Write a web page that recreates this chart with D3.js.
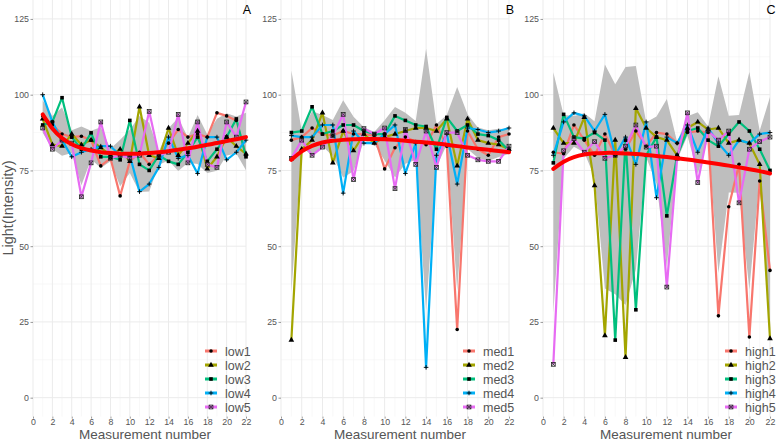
<!DOCTYPE html>
<html>
<head>
<meta charset="utf-8">
<script src="https://cdn.jsdelivr.net/npm/d3@7"></script>
<style>
  body { margin: 0; background: #fff; }
  text { font-family: "Liberation Sans", Arial, sans-serif; }
</style>
</head>
<body>
<svg id="chart" width="782" height="441"></svg>
<script>
// Measurement numbers (x)
var measurement = [1, 2, 3, 4, 5, 6, 7, 8, 9, 10, 11, 12, 13, 14, 15, 16, 17, 18, 19, 20, 21, 22];

// Panel A - low
var lowNames = ["low1", "low2", "low3", "low4", "low5"];
var low1 = [93, 90, 87, 86, 86.3, 85, 76.5, 79, 66.6, 78, 81, 77, 80, 84, 88.5, 86, 87, 86, 94, 93, 91.5, 80];
var low2 = [92, 83.5, 83, 87, 83.5, 85, 82.5, 80, 82, 78, 96, 80, 79, 89, 80, 84, 88, 75.5, 79.5, 86, 83, 80.5];
var low3 = [90, 91, 99, 86, 82, 87.4, 79.5, 79.5, 78.5, 91.5, 77, 75, 80, 78, 77, 81, 86, 78, 82, 86, 92, 79.5];
var low4 = [100, 91, 85, 79.5, 81, 82, 83, 83, 80, 80, 68, 70.5, 76, 86, 79, 80, 74, 86, 86, 78.5, 81, 85];
var low5 = [89, 82, 85, 84, 66.3, 77.5, 91, 79, 80, 79, 80, 94.5, 80, 81, 93.5, 77.5, 91, 77, 76, 91, 86, 97.6];
var lowSmooth = [93.5, 88.5, 85.5, 83.5, 82.3, 81.5, 81, 80.7, 80.5, 80.5, 80.5, 80.7, 81, 81.3, 81.8, 82.3, 82.8, 83.5, 84, 84.7, 85.3, 86];

// Panel B - med
var medNames = ["med1", "med2", "med3", "med4", "med5"];
var med1 = [85, 86, 89, 87, 86.5, 88, 87, 87, 86.5, 75.5, 82.5, 86, 84.5, 83.5, 90, 83, 22.5, 88, 82, 80, 86, 87];
var med2 = [19, 82, 85, 94, 77.5, 88, 81.5, 87, 84, 86, 87, 88, 89, 89, 88, 92, 76.5, 92, 85, 84, 83.5, 82];
var med3 = [87.5, 88, 96, 87, 88, 90, 90, 88, 87, 87, 93, 91.5, 90, 89.5, 82, 92.5, 88, 90, 87, 86.5, 85, 81.5];
var med4 = [86.5, 86, 86, 90, 90, 67.5, 88, 84, 84, 87, 90, 74, 84, 10, 80, 87, 70.5, 89, 88.5, 87.5, 88, 89];
var med5 = [79, 85, 80, 82.7, 86.5, 93.5, 72, 88.8, 87, 89, 69, 88.5, 77, 88, 76, 87.5, 87.5, 80, 78.5, 78, 78, 83];
var medSmooth = [78.5, 81.5, 83.2, 84.3, 84.8, 85.1, 85.3, 85.4, 85.4, 85.3, 85.1, 84.8, 84.5, 84.2, 83.9, 83.5, 83, 82.6, 82.2, 81.8, 81.4, 81];

// Panel C - high
var highNames = ["high1", "high2", "high3", "high4", "high5"];
var high1 = [81, 80.5, 90, 85, 80, 87, 80, 82, 88, 83, 87.5, 87, 84, 87.5, 88, 87.5, 27, 63, 77, 20, 71.5, 42];
var high2 = [89, 84, 84, 92.5, 70, 20.5, 85, 13.3, 95.5, 89, 86, 85, 80, 89, 91, 88.5, 89, 84, 85, 84, 77, 19.5];
var high3 = [77.5, 93.5, 86, 85.5, 87.5, 85, 19, 85, 29, 80, 86, 60, 80, 88, 89, 85, 83, 87, 91, 88, 82, 75];
var high4 = [80, 91, 94, 93, 88, 93.5, 80, 86, 77, 91, 66, 86, 84, 90, 81, 89, 84, 80, 85, 84, 87, 87.5];
var high5 = [11, 81.5, 85.5, 81, 84.5, 79, 80, 83, 90, 82.7, 83, 36.5, 79, 94, 71, 88, 85, 88, 64.3, 82, 84.5, 86];
var highSmooth = [75.5, 78, 79.5, 80.3, 80.7, 80.8, 80.8, 80.6, 80.4, 80.1, 79.8, 79.4, 79, 78.6, 78.1, 77.6, 77.1, 76.6, 76, 75.4, 74.8, 74];

// Axis ticks
var yTicks = [0, 25, 50, 75, 100, 125];
var xTicks = [0, 2, 4, 6, 8, 10, 12, 14, 16, 18, 20, 22];

var seriesColors = ["#F8766D", "#A3A500", "#00BF7D", "#00B0F6", "#E76BF3"];
var shapes = ["circle", "triangle", "square", "plus", "boxcross"];

const panels = [
    {letter: "A", left: 33, right: 246, names: lowNames, values: [low1, low2, low3, low4, low5], smooth: lowSmooth,
     legendX: 205, yTitle: true, xTitleX: 145},
    {letter: "B", left: 281, right: 509, names: medNames, values: [med1, med2, med3, med4, med5], smooth: medSmooth,
     legendX: 463, yTitle: false, xTitleX: 400},
    {letter: "C", left: 543, right: 770, names: highNames, values: [high1, high2, high3, high4, high5], smooth: highSmooth,
     legendX: 725, yTitle: false, xTitleX: 666}
];

const svg = d3.select("#chart");
svg.append("rect").attr("width", 782).attr("height", 441).attr("fill", "#fff");

const yScale = d3.scaleLinear().domain([-6.25, 131.25]).range([416.6, 0]);
const tCrit = 2.776; // t quantile for n = 5

const drawMarker = (g, shape, x, y) => {
    if (shape === "circle") {
        g.append("circle").attr("cx", x).attr("cy", y).attr("r", 1.8).attr("fill", "#000");
    } else if (shape === "triangle") {
        g.append("path").attr("d", d3.symbol().type(d3.symbolTriangle).size(14)())
            .attr("transform", "translate(" + x + "," + y + ")").attr("fill", "#000");
    } else if (shape === "square") {
        g.append("rect").attr("x", x - 1.8).attr("y", y - 1.8).attr("width", 3.6).attr("height", 3.6).attr("fill", "#000");
    } else if (shape === "plus") {
        g.append("path").attr("d", "M" + (x - 2.3) + "," + y + "H" + (x + 2.3) + "M" + x + "," + (y - 2.3) + "V" + (y + 2.3))
            .attr("stroke", "#000").attr("stroke-width", 0.9);
    } else {
        g.append("rect").attr("x", x - 1.9).attr("y", y - 1.9).attr("width", 3.8).attr("height", 3.8)
            .attr("fill", "none").attr("stroke", "#222").attr("stroke-width", 0.8);
        g.append("path").attr("d", "M" + (x - 1.9) + "," + (y - 1.9) + "L" + (x + 1.9) + "," + (y + 1.9) + "M" + (x - 1.9) + "," + (y + 1.9) + "L" + (x + 1.9) + "," + (y - 1.9))
            .attr("stroke", "#222").attr("stroke-width", 0.7);
    }
};

panels.forEach(p => {
    const xScale = d3.scaleLinear().domain([0, 22]).range([p.left, p.right]);
    const g = svg.append("g");

    // grid lines
    const minorY = d3.range(-0, 131, 12.5).filter(v => v % 25 !== 0);
    g.selectAll(".minorY").data(minorY).enter().append("line")
        .attr("x1", p.left).attr("x2", p.right)
        .attr("y1", d => yScale(d)).attr("y2", d => yScale(d))
        .attr("stroke", "#f4f4f4").attr("stroke-width", 0.6);
    g.selectAll(".minorX").data(d3.range(1, 23, 2)).enter().append("line")
        .attr("x1", d => xScale(d)).attr("x2", d => xScale(d))
        .attr("y1", 0).attr("y2", 416.6)
        .attr("stroke", "#f4f4f4").attr("stroke-width", 0.6);
    g.selectAll(".majorY").data(yTicks).enter().append("line")
        .attr("x1", p.left).attr("x2", p.right)
        .attr("y1", d => yScale(d)).attr("y2", d => yScale(d))
        .attr("stroke", "#ebebeb").attr("stroke-width", 1);
    g.selectAll(".majorX").data(xTicks).enter().append("line")
        .attr("x1", d => xScale(d)).attr("x2", d => xScale(d))
        .attr("y1", 0).attr("y2", 416.6)
        .attr("stroke", "#ebebeb").attr("stroke-width", 1);

    // axes
    const yAxis = g.append("g").attr("transform", "translate(" + p.left + ",0)")
        .call(d3.axisLeft(yScale).tickValues(yTicks).tickSize(2.5).tickPadding(1.5));
    const xAxis = g.append("g").attr("transform", "translate(0,416.6)")
        .call(d3.axisBottom(xScale).tickValues(xTicks).tickSize(2).tickPadding(0.5));
    [yAxis, xAxis].forEach(a => {
        a.select(".domain").remove();
        a.selectAll("line").attr("stroke", "#555").attr("stroke-width", 0.6);
        a.selectAll("text").attr("fill", "#555").style("font-size", "8.8px");
    });

    // confidence ribbon from the five series
    const ribbon = measurement.map((m, i) => {
        const vals = p.values.map(s => s[i]);
        const mean = d3.mean(vals);
        const half = tCrit * d3.deviation(vals) / Math.sqrt(vals.length);
        return {x: m, lo: mean - half, hi: mean + half};
    });
    g.append("path").datum(ribbon)
        .attr("d", d3.area().x(d => xScale(d.x)).y0(d => yScale(d.lo)).y1(d => yScale(d.hi)))
        .attr("fill", "#bebebe");

    // series lines
    p.values.forEach((s, k) => {
        g.append("path").datum(s)
            .attr("d", d3.line().x((d, i) => xScale(measurement[i])).y(d => yScale(d)))
            .attr("fill", "none").attr("stroke", seriesColors[k]).attr("stroke-width", 2.2)
            .attr("stroke-linejoin", "round");
    });
    p.values.forEach((s, k) => {
        s.forEach((v, i) => drawMarker(g, shapes[k], xScale(measurement[i]), yScale(v)));
    });

    // smooth line
    g.append("path").datum(p.smooth)
        .attr("d", d3.line().curve(d3.curveBasis).x((d, i) => xScale(measurement[i])).y(d => yScale(d)))
        .attr("fill", "none").attr("stroke", "#ff0000").attr("stroke-width", 4)
        .attr("stroke-linecap", "round");

    // legend
    p.names.forEach((n, k) => {
        const ly = 351 + k * 14;
        const lg = g.append("g");
        lg.append("line").attr("x1", p.legendX).attr("x2", p.legendX + 12)
            .attr("y1", ly).attr("y2", ly)
            .attr("stroke", seriesColors[k]).attr("stroke-width", 3);
        drawMarker(lg, shapes[k], p.legendX + 6, ly);
        lg.append("text").attr("x", p.legendX + 20).attr("y", ly + 4.5)
            .attr("fill", "#555").style("font-size", "12.5px").text(n);
    });

    // panel letter
    g.append("text").attr("x", p.right + 1).attr("y", 14).attr("text-anchor", "middle")
        .attr("fill", "#000").style("font-size", "12.5px").text(p.letter);

    // axis titles
    g.append("text").attr("x", p.xTitleX).attr("y", 438.5).attr("text-anchor", "middle")
        .attr("fill", "#555").style("font-size", "13.5px").text("Measurement number");
    if (p.yTitle) {
        g.append("text").attr("transform", "translate(13,208) rotate(-90)").attr("text-anchor", "middle")
            .attr("fill", "#555").style("font-size", "14.5px").text("Light(Intensity)");
    }
});
</script>
</body>
</html>
